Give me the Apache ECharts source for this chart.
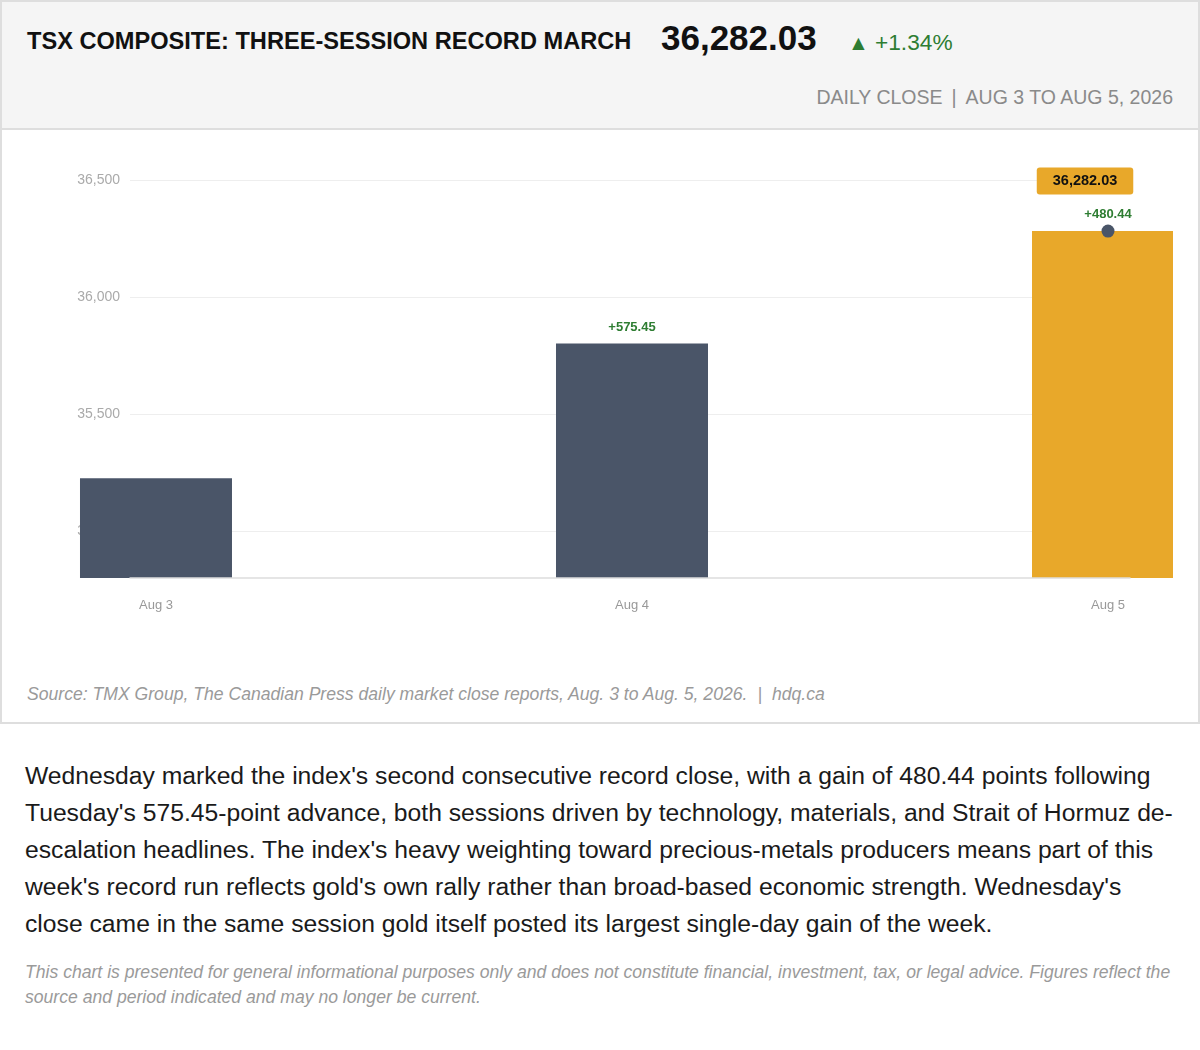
<!DOCTYPE html>
<html>
<head>
<meta charset="utf-8">
<script src="https://cdn.jsdelivr.net/npm/echarts@6/dist/echarts.min.js"></script>
<style>
  html, body { margin: 0; padding: 0; background: #ffffff; }
  body { width: 1200px; height: 1050px; position: relative; font-family: "Liberation Sans", Arial, sans-serif; overflow: hidden; }
  .card { position: absolute; left: 0; top: 0; width: 1200px; height: 724px; box-sizing: border-box; border: 2px solid #dedede; background: #fff; }
  .header { position: absolute; left: 0; top: 0; width: 1196px; height: 126px; background: #f5f5f5; border-bottom: 2px solid #dedede; }
  .abs { position: absolute; white-space: nowrap; line-height: 1; }
  .title { left: 25px; top: 28px; font-size: 23.6px; font-weight: bold; color: #111; }
  .big { left: 659px; top: 18px; font-size: 35px; font-weight: bold; color: #111; }
  .tri { left: 846px; top: 30px; font-size: 21px; color: #2e7d32; }
  .chg { left: 873px; top: 29px; font-size: 22.7px; color: #2e7d32; }
  .sub { right: 25px; top: 86px; font-size: 19.5px; color: #8a8a8a; }
  .sub .sep { margin: 0 9px; }
  #chart { position: absolute; left: 24px; top: 128px; width: 1147px; height: 520px; }
  .source { left: 25px; top: 684px; font-size: 17.6px; font-style: italic; color: #9a9a9a; }
  .source .sep { margin: 0 10px; }
  .para { position: absolute; left: 25px; top: 757px; width: 1152px; font-size: 24.7px; line-height: 37px; color: #1a1a1a; }
  .disc { position: absolute; left: 25px; top: 960px; width: 1152px; font-size: 17.6px; line-height: 25px; font-style: italic; color: #9a9a9a; }
</style>
</head>
<body>
<div class="card">
  <div class="header">
    <div class="abs title">TSX COMPOSITE: THREE-SESSION RECORD MARCH</div>
    <div class="abs big">36,282.03</div>
    <div class="abs tri">▲</div>
    <div class="abs chg">+1.34%</div>
    <div class="abs sub">DAILY CLOSE<span class="sep">|</span>AUG 3 TO AUG 5, 2026</div>
  </div>
  <div id="chart"></div>
  <div class="abs source">Source: TMX Group, The Canadian Press daily market close reports, Aug. 3 to Aug. 5, 2026.<span class="sep">|</span>hdq.ca</div>
</div>
<div class="para">Wednesday marked the index's second consecutive record close, with a gain of 480.44 points following Tuesday's 575.45-point advance, both sessions driven by technology, materials, and Strait of Hormuz de-escalation headlines. The index's heavy weighting toward precious-metals producers means part of this week's record run reflects gold's own rally rather than broad-based economic strength. Wednesday's close came in the same session gold itself posted its largest single-day gain of the week.</div>
<div class="disc">This chart is presented for general informational purposes only and does not constitute financial, investment, tax, or legal advice. Figures reflect the source and period indicated and may no longer be current.</div>

<script>
// ---- data ----
const days = ['Aug 3', 'Aug 4', 'Aug 5'];
const closes = [35226.14, 35801.59, 36282.03];
const changes = [null, 575.45, 480.44];
const yTicks = [35000, 35500, 36000, 36500];
const yMin = 34800;
const yMax = 36500;
const recordDay = 'Aug 5';

// ---- styles ----
const FONT = '"Liberation Sans", Arial, sans-serif';
const SLATE = '#4a5568';
const GOLD = '#e8a82a';
const GREEN = '#2e7d32';
const BAR_W = 152;

const recordIdx = days.indexOf(recordDay);
const idx = days.map((d, i) => i);
const fmt = v => v.toLocaleString('en-US', { minimumFractionDigits: 0, maximumFractionDigits: 2 });
const fmt2 = v => v.toLocaleString('en-US', { minimumFractionDigits: 2, maximumFractionDigits: 2 });

const chart = echarts.init(document.getElementById('chart'), null, { renderer: 'canvas' });
chart.setOption({
  animation: false,
  grid: { left: 104, right: 43, top: 50, bottom: 72 },
  xAxis: {
    type: 'value',
    min: -0.0546,
    max: 2.0462,
    z: 3,
    splitLine: { show: false },
    axisTick: { show: false, customValues: idx },
    axisLine: { show: true, lineStyle: { color: '#dddddd', width: 1.5 } },
    axisLabel: {
      customValues: idx,
      formatter: v => days[Math.round(v)],
      color: '#999999', fontSize: 13, fontFamily: FONT, margin: 21
    }
  },
  yAxis: {
    type: 'value',
    min: yMin,
    max: yMax,
    axisLine: { show: false },
    axisTick: { show: false, customValues: yTicks },
    splitLine: { show: true, lineStyle: { color: '#eeeeee', width: 1 } },
    axisLabel: {
      customValues: yTicks,
      formatter: v => fmt(v),
      color: '#aaaaaa', fontSize: 14, fontFamily: FONT, margin: 10
    }
  },
  series: [
    {
      name: 'Daily close',
      type: 'custom',
      clip: false,
      z: 2,
      data: idx.map(i => [i, closes[i]]),
      renderItem: (params, api) => {
        const i = api.value(0);
        const top = api.coord([i, api.value(1)]);
        const base = api.coord([i, yMin]);
        return {
          type: 'rect',
          shape: { x: top[0] - BAR_W / 2, y: top[1], width: BAR_W, height: base[1] - top[1] },
          style: { fill: i === recordIdx ? GOLD : SLATE }
        };
      }
    },
    {
      name: 'Change',
      type: 'scatter',
      z: 4,
      symbolSize: 0,
      itemStyle: { opacity: 1 },
      data: idx.filter(i => changes[i] != null).map(i => [i, closes[i], changes[i]]),
      label: {
        show: true,
        position: 'top',
        distance: 10,
        formatter: p => '+' + fmt2(p.value[2]),
        color: GREEN, fontSize: 13, fontWeight: 'bold', fontFamily: FONT
      }
    },
    {
      name: 'Record close',
      type: 'scatter',
      z: 5,
      symbol: 'circle',
      symbolSize: 13,
      itemStyle: { color: SLATE, opacity: 1 },
      data: [[recordIdx, closes[recordIdx]]],
      label: {
        show: true,
        position: 'inside',
        offset: [-23, -50],
        formatter: p => fmt2(p.value[1]),
        color: '#111111', fontSize: 14.5, fontWeight: 'bold', fontFamily: FONT,
        backgroundColor: GOLD, borderRadius: 3, padding: [6, 16, 6, 16]
      }
    }
  ]
});
</script>
</body>
</html>
